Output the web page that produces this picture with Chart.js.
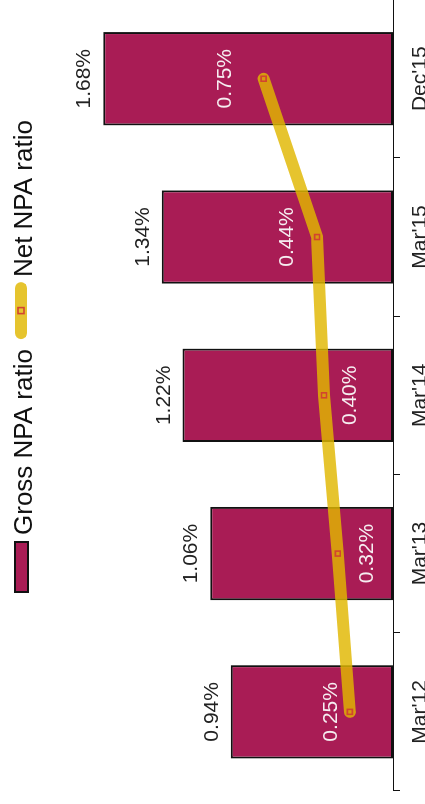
<!DOCTYPE html>
<html>
<head>
<meta charset="utf-8">
<script src="https://cdn.jsdelivr.net/npm/chart.js@4.4.1/dist/chart.umd.min.js"></script>
<style>
  html, body { margin: 0; padding: 0; background: #fff; overflow: hidden; }
  body { width: 425px; height: 804px; position: relative; }
  /* chart is laid out landscape, then turned to read bottom-up */
  #wrap {
    position: absolute; left: 0; top: 0;
    width: 810px; height: 425px;
    transform-origin: 0 0;
    transform: translate(0, 804px) rotate(-90deg);
  }
</style>
</head>
<body>
<div id="wrap"><canvas id="npaChart" width="810" height="425"></canvas></div>
<script>
const periods = ["Mar'12", "Mar'13", "Mar'14", "Mar'15", "Dec'15"];
const grossNpa = [0.94, 1.06, 1.22, 1.34, 1.68];
const netNpa = [0.25, 0.32, 0.40, 0.44, 0.75];

// label shift (px) for the white net NPA labels, negative = above the point
const netLabelShift = [-19, 29, 26, -30, -38];

const FONT = '"Liberation Sans", Arial, sans-serif';
const BAR_COLOR = '#A91C55';
const LINE_COLOR = 'rgba(224,183,0,0.82)';
const MARK_COLOR = '#D2452E';

// value labels on bars and line points
const valueLabels = {
    id: 'valueLabels',
    afterDatasetsDraw(chart) {
        const ctx = chart.ctx;
        ctx.save();
        ctx.font = '21px ' + FONT;
        ctx.textAlign = 'center';

        // gross labels sit just outside the bar end
        ctx.fillStyle = '#222';
        ctx.textBaseline = 'alphabetic';
        chart.getDatasetMeta(1).data.forEach((bar, i) => {
            ctx.fillText(grossNpa[i].toFixed(2) + '%', bar.x, bar.y - 13);
        });

        // net labels in white inside the bars
        ctx.fillStyle = '#F6EEF1';
        ctx.textBaseline = 'middle';
        chart.getDatasetMeta(0).data.forEach((pt, i) => {
            ctx.fillText(netNpa[i].toFixed(2) + '%', pt.x, pt.y + netLabelShift[i]);
        });
        ctx.restore();
    }
};

// legend drawn by hand so the line sample can have round caps and a marker
const topLegend = {
    id: 'topLegend',
    afterDraw(chart) {
        const ctx = chart.ctx;
        ctx.save();
        ctx.font = '26px ' + FONT;
        ctx.textBaseline = 'alphabetic';

        let x = 211;
        ctx.fillStyle = BAR_COLOR;
        ctx.fillRect(x, 14, 52, 15);
        ctx.strokeStyle = '#111';
        ctx.lineWidth = 2;
        ctx.strokeRect(x + 1, 15, 50, 13);
        x += 58;
        ctx.fillStyle = '#111';
        ctx.fillText('Gross NPA ratio', x, 32);
        x += ctx.measureText('Gross NPA ratio').width + 10;

        ctx.strokeStyle = LINE_COLOR;
        ctx.lineWidth = 12;
        ctx.lineCap = 'round';
        ctx.beginPath();
        ctx.moveTo(x + 6, 21);
        ctx.lineTo(x + 51, 21);
        ctx.stroke();
        ctx.strokeStyle = MARK_COLOR;
        ctx.lineWidth = 1.6;
        ctx.lineCap = 'butt';
        ctx.strokeRect(x + 25.5, 18, 6, 6);
        x += 62;
        ctx.fillText('Net NPA ratio', x, 32);
        ctx.restore();
    }
};

const ctx = document.getElementById('npaChart').getContext('2d');
new Chart(ctx, {
    type: 'bar',
    data: {
        labels: periods,
        datasets: [
            {
                type: 'line',
                label: 'Net NPA ratio',
                data: netNpa,
                order: 0,
                borderColor: LINE_COLOR,
                borderWidth: 12,
                borderCapStyle: 'round',
                borderJoinStyle: 'round',
                tension: 0,
                pointStyle: 'rect',
                pointRadius: 3.5,
                pointBorderWidth: 1.6,
                pointBorderColor: MARK_COLOR,
                pointBackgroundColor: 'rgba(0,0,0,0)'
            },
            {
                label: 'Gross NPA ratio',
                data: grossNpa,
                order: 1,
                backgroundColor: BAR_COLOR,
                borderColor: '#111',
                borderWidth: 2,
                borderSkipped: false,
                categoryPercentage: 1,
                barPercentage: 0.59
            }
        ]
    },
    options: {
        responsive: false,
        animation: false,
        layout: { padding: { top: 48, left: 13, right: 0, bottom: 0 } },
        plugins: {
            legend: { display: false },
            tooltip: { enabled: false }
        },
        scales: {
            x: {
                offset: true,
                grid: {
                    offset: true,
                    drawOnChartArea: false,
                    drawTicks: true,
                    tickLength: 7,
                    color: '#111'
                },
                border: { display: true, color: '#111', width: 1 },
                ticks: {
                    color: '#222',
                    padding: 8,
                    font: { family: FONT, size: 21 }
                },
                afterFit(scale) { scale.height = 32; }
            },
            y: {
                display: false,
                min: 0,
                max: 2
            }
        }
    },
    plugins: [valueLabels, topLegend]
});
</script>
</body>
</html>
